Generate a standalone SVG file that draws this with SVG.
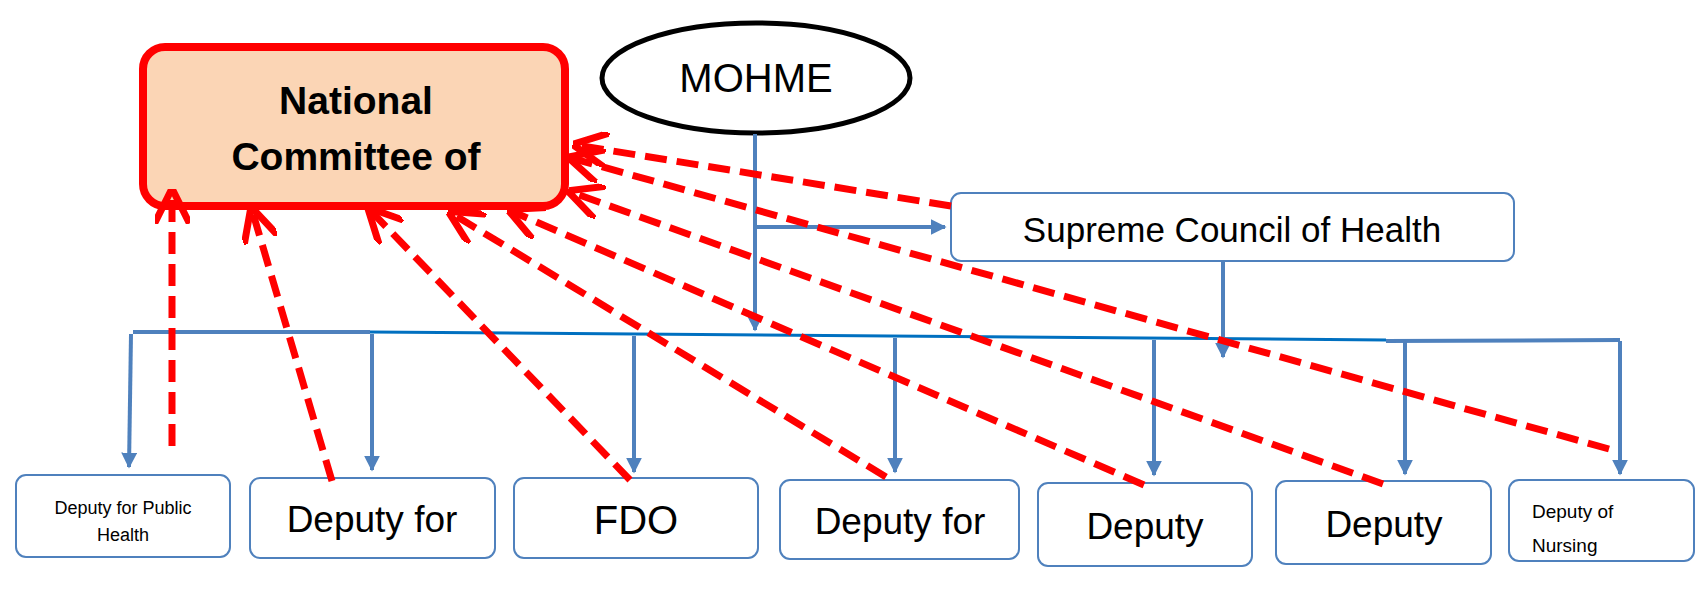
<svg xmlns="http://www.w3.org/2000/svg" width="1704" height="592" viewBox="0 0 1704 592">
<defs>
<marker id="ab" viewBox="0 0 10 10" refX="9" refY="5" markerWidth="4" markerHeight="4" orient="auto"><path d="M0,0 L10,5 L0,10 z" fill="#4f81bd"/></marker>
<marker id="ar" viewBox="0 0 10 10" refX="9" refY="5" markerWidth="5" markerHeight="5" orient="auto"><path d="M0,0 L10,5 L0,10" fill="none" stroke="#f00" stroke-width="2"/></marker>
<style>
.box{fill:#fff;stroke:#4f81bd;stroke-width:2}
.t{font-family:"Liberation Sans",Arial,sans-serif;fill:#000;text-anchor:middle}
.b{stroke:#4f81bd;stroke-width:4;fill:none}
.r{stroke:#f00;stroke-width:7;stroke-dasharray:22,10;fill:none;marker-end:url(#ar)}
</style>
</defs>
<g id="national"><rect x="143" y="47" width="422" height="159" rx="22" fill="#fbd5b5" stroke="#f00" stroke-width="8"/>
<text class="t" x="356" y="114" font-size="39" font-weight="bold">National</text>
<text class="t" x="356" y="170" font-size="39" font-weight="bold">Committee of</text></g>
<g id="mohme"><ellipse cx="756" cy="78" rx="154" ry="55" fill="#fff" stroke="#000" stroke-width="5"/>
<text class="t" x="756" y="92" font-size="40">MOHME</text></g>
<g id="supreme"><rect class="box" x="951" y="193" width="563" height="68" rx="10"/>
<text class="t" x="1232" y="242" font-size="35">Supreme Council of Health</text></g>
<g id="d1"><rect class="box" x="16" y="475" width="214" height="82" rx="10"/><text class="t" x="123" y="514" font-size="18">Deputy for Public</text><text class="t" x="123" y="541" font-size="18">Health</text></g>
<g id="d2"><rect class="box" x="250" y="478" width="245" height="80" rx="10"/><text class="t" x="372" y="532" font-size="37">Deputy for</text></g>
<g id="d3"><rect class="box" x="514" y="478" width="244" height="80" rx="10"/><text class="t" x="636" y="534" font-size="40">FDO</text></g>
<g id="d4"><rect class="box" x="780" y="480" width="239" height="79" rx="10"/><text class="t" x="900" y="534" font-size="37">Deputy for</text></g>
<g id="d5"><rect class="box" x="1038" y="483" width="214" height="83" rx="10"/><text class="t" x="1145" y="539" font-size="37">Deputy</text></g>
<g id="d6"><rect class="box" x="1276" y="481" width="215" height="83" rx="10"/><text class="t" x="1384" y="537" font-size="37">Deputy</text></g>
<g id="d7"><rect class="box" x="1509" y="480" width="185" height="81" rx="10"/><text class="t" x="1532" y="518" font-size="19" style="text-anchor:start">Deputy of</text><text class="t" x="1532" y="552" font-size="19" style="text-anchor:start">Nursing</text></g>
<g id="connectors">
<path class="b" d="M133,332 H370" stroke-width="5"/>
<path d="M370,332 L1386,340" stroke="#0070c0" stroke-width="3"/>
<path class="b" d="M1386,341 L1620,340" stroke-width="5"/>
<path class="b" d="M755,134 V330" marker-end="url(#ab)" stroke-width="3"/>
<path class="b" d="M757,227 H945" marker-end="url(#ab)"/>
<path class="b" d="M1223,261 V357" marker-end="url(#ab)" stroke-width="3"/>
<path class="b" d="M131,334 L129,467" marker-end="url(#ab)" stroke-width="3"/>
<path class="b" d="M372,334 V470" marker-end="url(#ab)" stroke-width="3"/>
<path class="b" d="M634,336 V472" marker-end="url(#ab)" stroke-width="3"/>
<path class="b" d="M895,338 V472" marker-end="url(#ab)" stroke-width="3"/>
<path class="b" d="M1154,340 V475" marker-end="url(#ab)" stroke-width="3"/>
<path class="b" d="M1405,341 V474" marker-end="url(#ab)" stroke-width="3"/>
<path class="b" d="M1620,341 V474" marker-end="url(#ab)" stroke-width="3"/>
<path class="r" d="M172,446 V192" stroke-dasharray="8,7" stroke-width="6"/>
<path class="r" d="M332,481 L252,210"/>
<path class="r" d="M630,480 L370,210"/>
<path class="r" d="M886,477 L451,213"/>
<path class="r" d="M1144,485 L511,211"/>
<path class="r" d="M1383,484 L571,192"/>
<path class="r" d="M1609,449 L571,158" stroke-width="5"/>
<path class="r" d="M951,206 L576,145"/>
</g>
</svg>
